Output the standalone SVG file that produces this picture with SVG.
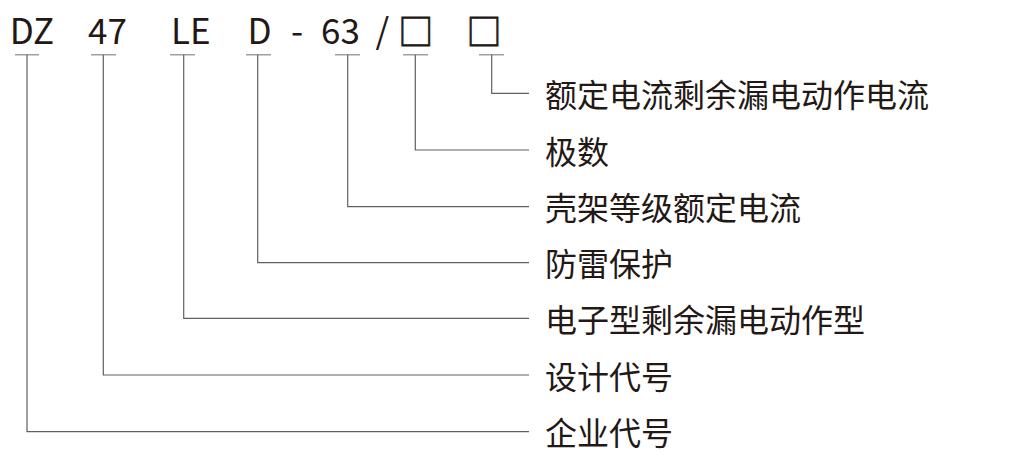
<svg xmlns="http://www.w3.org/2000/svg" width="1024" height="467" viewBox="0 0 1024 467">
<style>
.t{font-family:"Noto Sans CJK SC","Noto Sans",sans-serif;font-size:32px;fill:#231815}
.h{font-family:"Noto Sans CJK SC","Noto Sans",sans-serif;font-size:35px;fill:#231815}
.b{stroke:#231815;stroke-width:0.8}
.tick{stroke:#a0a0a0;stroke-width:1.6;fill:none}
.ln{stroke:#606060;stroke-width:1.2;fill:none}
</style>
<rect width="1024" height="467" fill="#fff"/>
<g id="header">
<text class="h" x="9.7" y="44.3">DZ</text>
<text class="h" x="88" y="44.3">47</text>
<text class="h" x="171" y="44.3">LE</text>
<text class="h" x="247.5" y="44.3">D</text>
<text class="h" x="291" y="44.3">-</text>
<text class="h" x="321" y="44.3">63</text>
<text class="h" x="375.5" y="44.3">/</text>
<text class="h b" x="398.3" y="45">□</text>
<text class="h b" x="466.6" y="45">□</text>
</g>
<g id="connectors">
<path class="tick" d="M15 54.7H39M91 54.7H116M170 54.7H195M246 54.7H271M335 54.7H360M403 54.7H428M479 54.7H504"/>
<path class="ln" d="M27 54.7V431.7H529"/>
<path class="ln" d="M103.3 54.7V375H529"/>
<path class="ln" d="M183.7 54.7V318.3H529"/>
<path class="ln" d="M257.7 54.7V262.7H529"/>
<path class="ln" d="M347.7 54.7V206.7H529"/>
<path class="ln" d="M415.3 54.7V150H529"/>
<path class="ln" d="M491.7 54.7V93.3H529"/>
</g>
<g id="n1"><text class="t" x="545" y="107">额定电流剩余漏电动作电流</text></g>
<g id="n2"><text class="t" x="545" y="163.7">极数</text></g>
<g id="n3"><text class="t" x="545" y="220.4">壳架等级额定电流</text></g>
<g id="n4"><text class="t" x="545" y="276.4">防雷保护</text></g>
<g id="n5"><text class="t" x="545" y="332">电子型剩余漏电动作型</text></g>
<g id="n6"><text class="t" x="545" y="388.7">设计代号</text></g>
<g id="n7"><text class="t" x="545" y="445.4">企业代号</text></g>
</svg>
